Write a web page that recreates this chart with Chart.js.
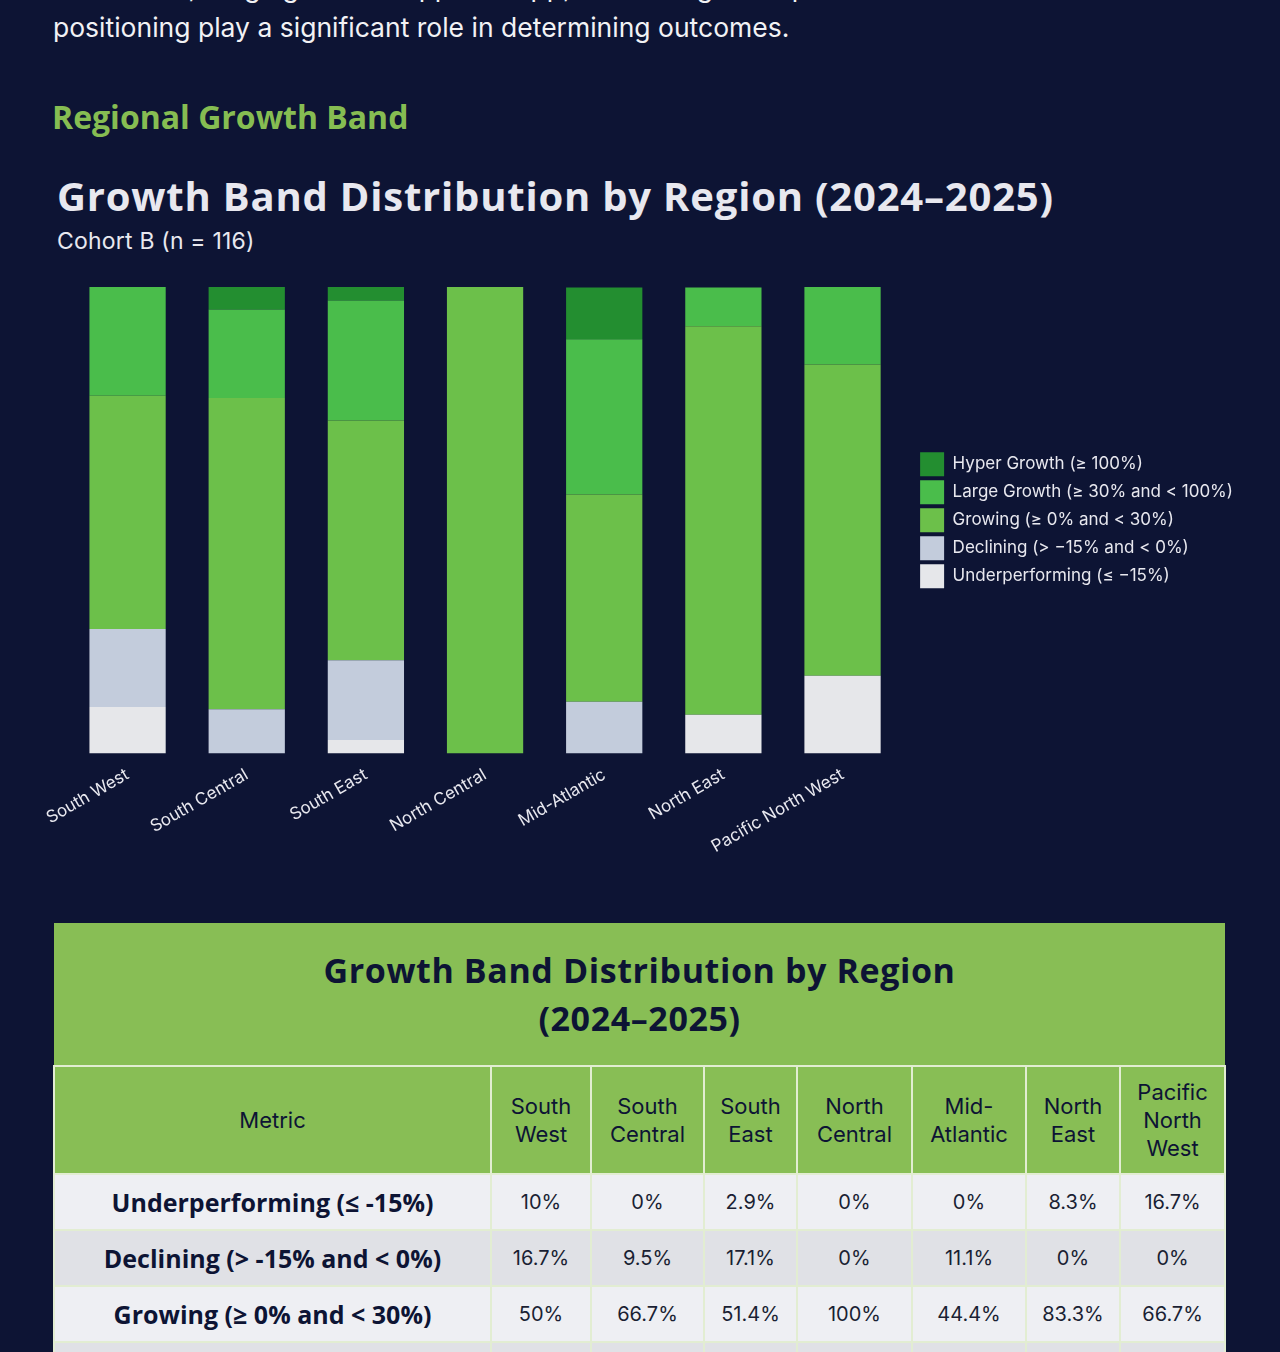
<!DOCTYPE html>
<html>
<head>
<meta charset="utf-8">
<script src="https://cdn.jsdelivr.net/npm/chart.js@4.4.1/dist/chart.umd.min.js"></script>
<style>
  html, body { margin: 0; padding: 0; background: #0D1434; }
  body { width: 1280px; height: 1352px; position: relative; overflow: hidden; font-family: "Inter", "DejaVu Sans", sans-serif; }
  .para { position: absolute; left: 53px; top: -33px; width: 1180px; margin: 0; font-size: 26.5px; line-height: 40px; color: #F2F2F5; font-family: "Inter", sans-serif; font-weight: 400; }
  h2 { position: absolute; left: 52px; top: 95px; margin: 0; font-family: "Open Sans", sans-serif; font-weight: 700; font-size: 32px; color: #86BD52; }
  .ctitle { position: absolute; left: 57px; top: 168px; margin: 0; font-family: "Open Sans", sans-serif; font-weight: 700; font-size: 40px; letter-spacing: 0.8px; color: #E8E8EF; z-index: 2; }
  .csub { position: absolute; left: 57px; top: 227px; margin: 0; font-family: "Inter", sans-serif; font-weight: 400; font-size: 23px; letter-spacing: 0.2px; color: #E8E8EF; z-index: 2; }
  #wrap { position: absolute; left: 45px; top: 277px; width: 1205px; height: 583px; z-index: 1; }
  table { position: absolute; left: 53px; top: 923px; width: 1171px; border-collapse: collapse; table-layout: fixed; }
  .tt { background: #88BE55; color: #0D1434; font-family: "Open Sans", sans-serif; font-weight: 700; font-size: 34px; letter-spacing: 0.6px; line-height: 48px; text-align: center; padding: 23px 0 23px 0; height: 96px; border: none; }
  th.h { background: #88BE55; color: #0D1434; font-weight: 400; font-size: 22px; line-height: 28px; height: 106px; border: 2px solid #E2EDD2; padding: 0 2px; }
  td { border: 2px solid #E2EDD2; text-align: center; color: #1A1F33; font-size: 20px; height: 54px; padding: 0; }
  td.lab { font-family: "Open Sans", sans-serif; font-weight: 700; font-size: 25px; color: #0D1434; }
  tr.odd td { background: #EEEFF3; }
  tr.even td { background: #E0E1E6; }
</style>
</head>
<body>
<p class="para">substantial, ranging from 3.3 pp to 33 pp, reinforcing that operator execution and local market positioning play a significant role in determining outcomes.</p>
<h2>Regional Growth Band</h2>
<div class="ctitle">Growth Band Distribution by Region (2024–2025)</div>
<div class="csub">Cohort B (n = 116)</div>
<div id="wrap"><canvas id="c"></canvas></div>
<table id="tbl"></table>
<script>
const regions = ["South West", "South Central", "South East", "North Central", "Mid-Atlantic", "North East", "Pacific North West"];
const headerLabels = ["South<br>West", "South<br>Central", "South<br>East", "North<br>Central", "Mid-<br>Atlantic", "North<br>East", "Pacific<br>North<br>West"];
const bandNames = ["Underperforming (≤ -15%)", "Declining (> -15% and < 0%)", "Growing (≥ 0% and < 30%)", "Large Growth (≥ 30% and < 100%)", "Hyper Growth (≥ 100%)"];
const legendNames = ["Underperforming (≤ −15%)", "Declining (> −15% and < 0%)", "Growing (≥ 0% and < 30%)", "Large Growth (≥ 30% and < 100%)", "Hyper Growth (≥ 100%)"];
const underperforming = [10, 0, 2.9, 0, 0, 8.3, 16.7];
const declining = [16.7, 9.5, 17.1, 0, 11.1, 0, 0];
const growing = [50, 66.7, 51.4, 100, 44.4, 83.3, 66.7];
const largeGrowth = [23.3, 19.0, 25.7, 0, 33.3, 8.3, 16.7];
const hyperGrowth = [0, 4.8, 2.9, 0, 11.1, 0, 0];
const bandColors = ["#E6E7EA", "#C3CCDC", "#6CC04A", "#4ABD4B", "#238E30"];
const seriesList = [underperforming, declining, growing, largeGrowth, hyperGrowth];

const datasets = seriesList.map((d, i) => ({
  label: legendNames[i],
  data: d,
  backgroundColor: bandColors[i],
  borderWidth: 0,
  barPercentage: 0.8,
  categoryPercentage: 0.8
}));

// leave a small gap between the plot area and the legend
const legendGap = {
  id: 'legendGap',
  afterLayout(chart) {
    const l = chart.legend;
    if (l) { l.left += 14; l.right += 14; }
  }
};

new Chart(document.getElementById('c'), {
  type: 'bar',
  data: { labels: regions, datasets },
  plugins: [legendGap],
  options: {
    responsive: true,
    maintainAspectRatio: false,
    animation: false,
    layout: { padding: { top: 10, left: 0, right: 21, bottom: 0 } },
    scales: {
      x: {
        stacked: true,
        grid: { display: false },
        border: { display: false },
        ticks: { color: '#E8E8EF', font: { family: 'Inter', size: 17 }, maxRotation: 30, minRotation: 30 }
      },
      y: { stacked: true, display: false, min: 0, max: 100 }
    },
    plugins: {
      legend: {
        position: 'right',
        fullSize: false,
        reverse: true,
        labels: { color: '#E8E8EF', boxWidth: 24, boxHeight: 24, padding: 4, font: { family: 'Inter', size: 17 } }
      },
      tooltip: { enabled: false }
    }
  }
});

const tbl = document.getElementById('tbl');
const colW = [437, 100, 113, 93, 115, 114, 94, 105];
let html = '<colgroup>' + colW.map(w => '<col style="width:' + w + 'px">').join('') + '</colgroup>';
html += '<tr><td class="tt" colspan="8">Growth Band Distribution by Region<br>(2024–2025)</td></tr>';
html += '<tr><th class="h">Metric</th>' + headerLabels.map(h => '<th class="h">' + h + '</th>').join('') + '</tr>';
const fmt = v => (Math.round(v * 10) / 10) + '%';
seriesList.forEach((s, i) => {
  html += '<tr class="' + (i % 2 === 0 ? 'odd' : 'even') + '"><td class="lab">' + bandNames[i] + '</td>' + s.map(v => '<td>' + fmt(v) + '</td>').join('') + '</tr>';
});
tbl.innerHTML = html;
</script>
</body>
</html>
